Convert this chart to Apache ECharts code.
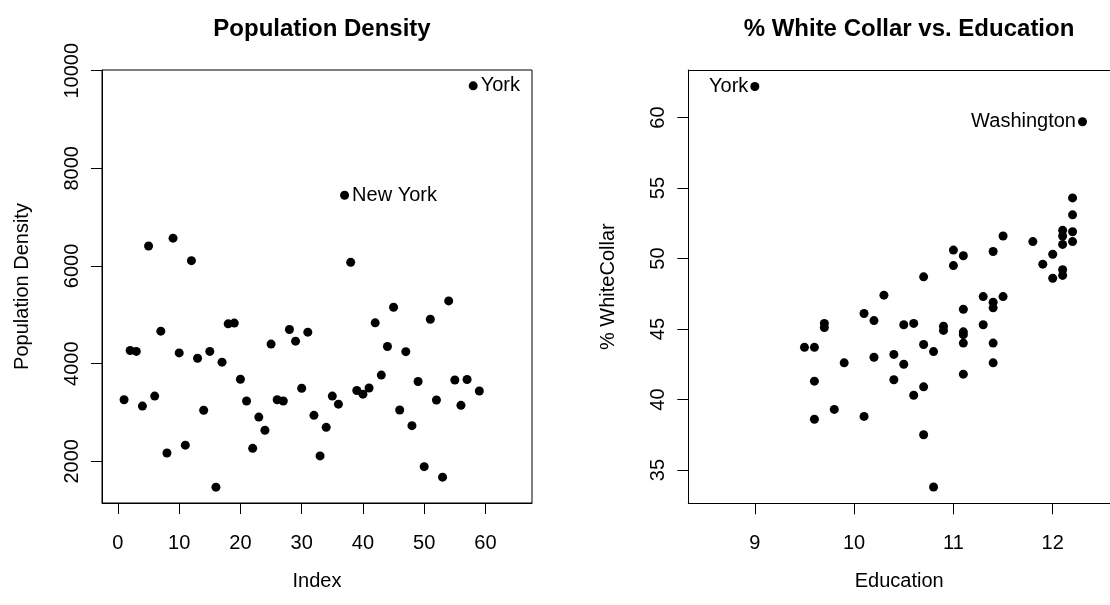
<!DOCTYPE html>
<html>
<head>
<meta charset="utf-8">
<script src="https://cdn.jsdelivr.net/npm/echarts@6/dist/echarts.min.js"></script>
<style>
  html, body { margin: 0; padding: 0; background: #fff; }
  #chart { width: 1110px; height: 605px; }
</style>
</head>
<body>
<div id="chart"></div>
<script>
// County index (x of the left panel)
const countyIndex = [
  1, 2, 3, 4, 5, 6, 7, 8, 9, 10, 11, 12, 13, 14, 15, 16, 17, 18, 19, 20,
  21, 22, 23, 24, 25, 26, 27, 28, 29, 30, 31, 32, 33, 34, 35, 36, 37, 38, 39, 40,
  41, 42, 43, 44, 45, 46, 47, 48, 49, 50, 51, 52, 53, 54, 55, 56, 57, 58, 59
];
// Population density per county
const popDensity = [
  3260, 4270, 4250, 3130, 6410, 3335, 4665, 2170, 6570, 4220,
  2330, 6110, 4110, 3045, 4250, 1470, 4030, 4815, 4830, 3680,
  3235, 2265, 2905, 2635, 4400, 3260, 3235, 4700, 4460, 3495,
  4645, 2940, 2110, 2695, 3335, 3170, 7450, 6075, 3450, 3375,
  3500, 4835, 3765, 4350, 5155, 3050, 4245, 2730, 3635, 1890,
  4910, 3255, 1675, 5285, 3665, 3145, 3675, 9690, 3440
];
const densityLabelIndex = [37, 58];
const densityLabelText = ['New York', 'York'];

// Education vs. % white collar
const education = [
  9.0, 12.3, 12.2, 12.2, 12.1, 12.1, 12.2, 12.2, 12.1, 11.8,
  12.0, 11.9, 12.1, 12.1, 12.0, 11.5, 11.4, 11.0, 11.1, 11.0,
  10.7, 10.3, 11.3, 11.4, 11.4, 11.5, 11.1, 10.1, 10.2, 9.7,
  9.7, 10.5, 10.6, 10.9, 10.9, 11.1, 11.1, 11.3, 11.1, 11.4,
  10.7, 10.8, 9.5, 9.6, 10.2, 10.4, 9.9, 10.5, 11.4, 11.1,
  9.6, 10.4, 10.7, 10.6, 9.8, 9.6, 10.1, 10.7, 10.8
];
const whiteCollar = [
  62.2, 59.7, 54.3, 53.1, 52.0, 51.6, 51.9, 51.2, 51.0, 51.2,
  50.3, 49.6, 49.2, 48.8, 48.6, 51.6, 50.5, 50.6, 50.2, 49.5,
  48.7, 47.4, 47.3, 46.9, 46.5, 47.3, 46.4, 46.1, 45.6, 45.4,
  45.1, 45.3, 45.4, 45.2, 44.9, 44.8, 44.6, 45.3, 44.0, 44.0,
  43.9, 43.4, 43.7, 43.7, 43.0, 43.2, 42.6, 42.5, 42.6, 41.8,
  41.3, 41.4, 40.9, 40.3, 39.3, 38.6, 38.8, 37.5, 33.8
];
const collarLabelAt = [0, 1];
const collarLabelText = ['York', 'Washington'];

// Tick labels
const indexTicks = [0, 10, 20, 30, 40, 50, 60];
const densityTicks = [2000, 4000, 6000, 8000, 10000];
const educationTicks = [9, 10, 11, 12];
const collarTicks = [35, 40, 45, 50, 55, 60];

const FONT = 'Liberation Sans, Arial, Helvetica, sans-serif';
const LINE = { color: '#000', width: 1 };

function axisStyle(ticks, rotate, margin, extra) {
  return Object.assign({
    type: 'value',
    axisLine: { show: true, onZero: false, lineStyle: LINE },
    axisTick: { show: true, inside: false, length: 11, customValues: ticks, lineStyle: LINE },
    axisLabel: { customValues: ticks, color: '#000', fontSize: 20, fontFamily: FONT,
                 rotate: rotate, margin: margin, formatter: v => String(v) },
    splitLine: { show: false },
    nameLocation: 'middle',
    nameTextStyle: { color: '#000', fontSize: 20, fontFamily: FONT }
  }, extra);
}

// bare frame edge (top border of the right panel)
function frameEdge(extra) {
  return Object.assign({
    type: 'value',
    axisLine: { show: true, onZero: false, lineStyle: LINE },
    axisTick: { show: false },
    axisLabel: { show: false },
    splitLine: { show: false }
  }, extra);
}

const densityData = countyIndex.map((x, i) => {
  const item = { value: [x, popDensity[i]] };
  const k = densityLabelIndex.indexOf(x);
  if (k >= 0) {
    item.label = { show: true, formatter: densityLabelText[k], position: 'right', distance: 3 };
  }
  return item;
});

const collarData = education.map((x, i) => {
  const item = { value: [x, whiteCollar[i]] };
  const k = collarLabelAt.indexOf(i);
  if (k >= 0) {
    item.label = { show: true, formatter: collarLabelText[k], position: 'left', distance: 2 };
  }
  return item;
});

const chart = echarts.init(document.getElementById('chart'), null, { renderer: 'canvas' });

const pointLabel = { color: '#000', opacity: 1, fontSize: 20, fontFamily: FONT };

chart.setOption({
  backgroundColor: '#fff',
  animation: false,
  title: [
    { text: 'Population Density', left: 317, top: 12, textAlign: 'center',
      textStyle: { fontSize: 24, fontWeight: 'bold', color: '#000', fontFamily: FONT } },
    { text: '% White Collar vs. Education', left: 904, top: 12, textAlign: 'center',
      textStyle: { fontSize: 24, fontWeight: 'bold', color: '#000', fontFamily: FONT } }
  ],
  grid: [
    { left: 102, top: 70, width: 430, height: 433, show: true,
      borderColor: '#000', borderWidth: 1, backgroundColor: 'transparent' },
    // right panel runs past the canvas edge, so its frame is drawn by the axes
    { left: 688.3, top: 70, width: 423, height: 433.3, show: false }
  ],
  xAxis: [
    axisStyle(indexTicks, 0, 30, { gridIndex: 0, min: -2.6, max: 67.6, name: 'Index', nameGap: 68 }),
    axisStyle(educationTicks, 0, 30, { gridIndex: 1, min: 8.33, max: 12.577, name: 'Education', nameGap: 68 }),
    frameEdge({ gridIndex: 1, position: 'top', min: 8.33, max: 12.577 })
  ],
  yAxis: [
    axisStyle(densityTicks, 90, 20, { gridIndex: 0, min: 1145, max: 10015, name: 'Population Density', nameGap: 70 }),
    axisStyle(collarTicks, 90, 20, { gridIndex: 1, min: 32.64, max: 63.37, name: '% WhiteCollar', nameGap: 70 })
  ],
  series: [
    { type: 'scatter', xAxisIndex: 0, yAxisIndex: 0, symbol: 'circle', symbolSize: 9,
      itemStyle: { color: '#000', opacity: 1 },
      label: pointLabel,
      emphasis: { disabled: true },
      data: densityData },
    { type: 'scatter', xAxisIndex: 1, yAxisIndex: 1, symbol: 'circle', symbolSize: 9,
      itemStyle: { color: '#000', opacity: 1 },
      label: pointLabel,
      emphasis: { disabled: true },
      data: collarData }
  ]
});
</script>
</body>
</html>
